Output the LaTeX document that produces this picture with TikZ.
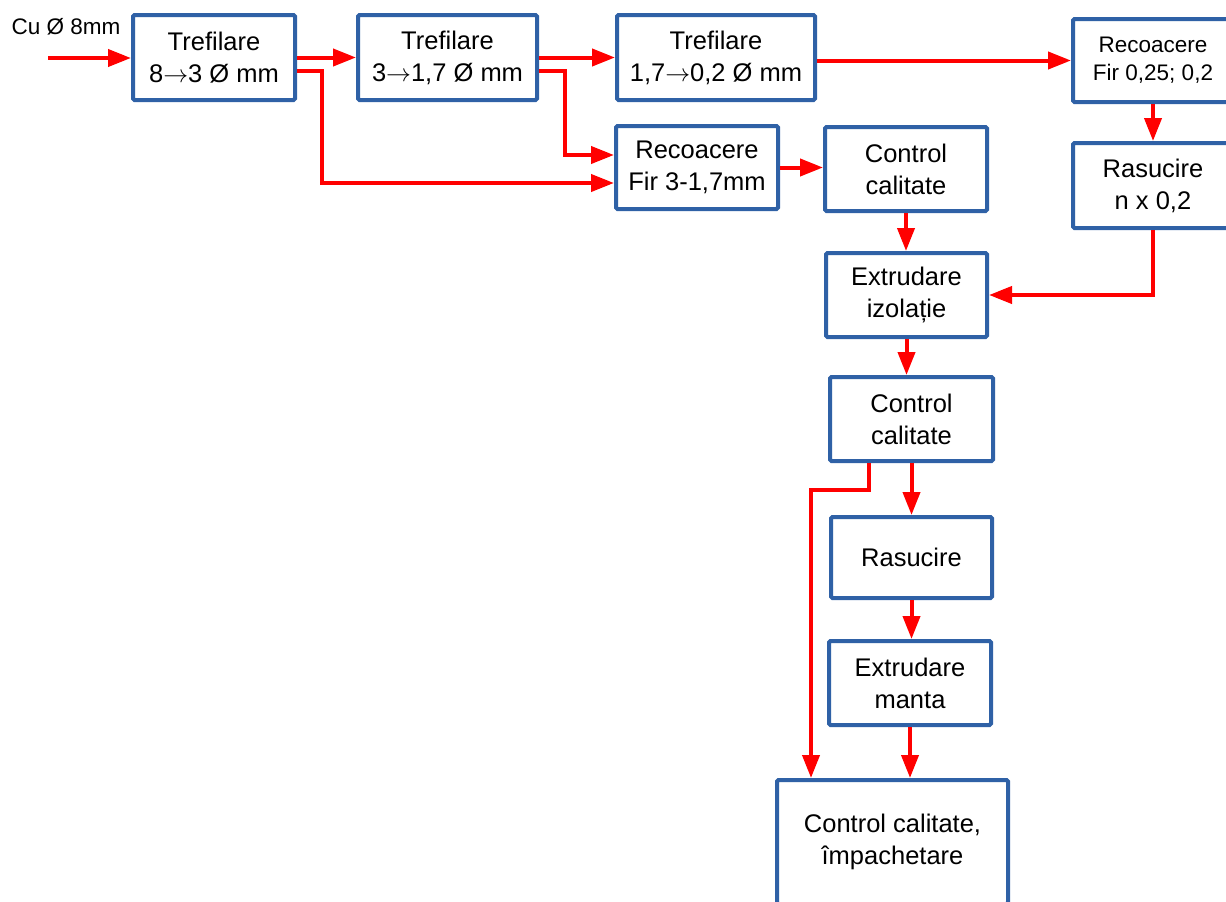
\documentclass[tikz,border=0pt]{standalone}
\usepackage{fontspec}
\setmainfont{Liberation Sans}
\usetikzlibrary{arrows.meta}
\definecolor{boxblue}{RGB}{47,97,166}
\definecolor{flowred}{RGB}{255,0,0}
\newcommand{\dto}{\ensuremath{\rightarrow}}

\begin{document}
\begin{tikzpicture}[x=1pt,y=-1pt,
	flow/.style={draw=flowred,line width=4pt,-{Triangle[length=23pt,width=17pt]}},
	small/.style={font=\fontsize{22.5}{28}\selectfont}]
	\useasboundingbox (0,0) rectangle (1226,902);
	\begin{scope}[every node/.style={draw=boxblue,line width=4pt,rounded corners=1.5pt,fill=white,align=center,inner sep=0pt,font=\fontsize{25.5}{32}\selectfont}]
	\node[minimum width=162,minimum height=85] (A) at (214,57.5) {Trefilare\\8\dto3 Ø mm};
	\node[minimum width=179,minimum height=85] (B) at (447.5,57.5) {Trefilare\\3\dto1,7 Ø mm};
	\node[minimum width=198,minimum height=85] (C) at (716,57.5) {Trefilare\\1,7\dto0,2 Ø mm};
	\node[minimum width=160,minimum height=83,small] (D) at (1153,60.5) {Recoacere\\Fir 0,25; 0,2};
	\node[minimum width=160,minimum height=85] (E) at (1153,185.5) {Rasucire\\n x 0,2};
	\node[minimum width=162,minimum height=83] (F) at (697,167.5) {Recoacere\\Fir 3-1,7mm};
	\node[minimum width=162,minimum height=84] (G) at (906,169) {Control\\calitate};
	\node[minimum width=161,minimum height=84] (H) at (906.5,295) {Extrudare\\izolație};
	\node[minimum width=163,minimum height=84] (I) at (911.5,419) {Control\\calitate};
	\node[minimum width=161,minimum height=81] (J) at (911.5,557.5) {Rasucire};
	\node[minimum width=162,minimum height=84] (K) at (910,683) {Extrudare\\manta};
	\node[minimum width=231,minimum height=124] (L) at (892.5,842) {Control calitate,\\împachetare};
	\end{scope}
	\node[small,inner sep=0pt] (cu) at (66,27) {Cu Ø 8mm};
	\coordinate (in) at (48,58);
	\draw [flow] (in) -- (in -| A.west);
	\draw [flow] (A.east) -- (B.west);
	\draw [flow] ([yshift=-13pt]A.east) -- ++(25,0) |- ([yshift=-15.5pt]F.west);
	\draw [flow] (B.east) -- (C.west);
	\draw [flow] ([yshift=-13pt]B.east) -- ++(26,0) |- ([yshift=12.5pt]F.west);
	\draw [flow] ([yshift=-3pt]C.east) -- (D.west);
	\draw [flow] (D.south) -- (E.north);
	\draw [flow] (E.south) |- (H.east);
	\draw [flow] (F.east) -- (F.east -| G.west);
	\draw [flow] (G.south) -- (G.south |- H.north);
	\draw [flow] (H.south) -- (H.south |- I.north);
	\draw [flow] (I.south) -- (J.north);
	\draw [flow] ([xshift=-42.5pt]I.south) -- ++(0,27) -| ([xshift=-81.5pt]L.north);
	\draw [flow] (J.south) -- (J.south |- K.north);
	\draw [flow] (K.south) -- (K.south |- L.north);
\end{tikzpicture}
\end{document}
